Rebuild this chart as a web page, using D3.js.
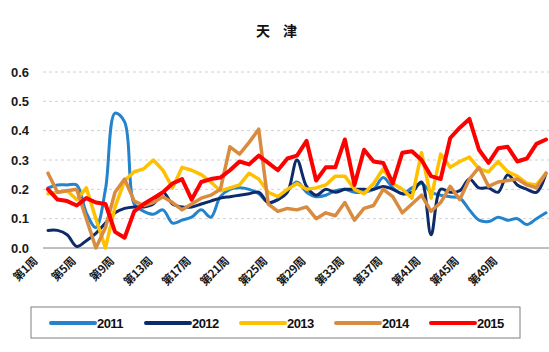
<!DOCTYPE html>
<html><head><meta charset="utf-8">
<script src="https://cdn.jsdelivr.net/npm/d3@7/dist/d3.min.js"></script>
<style>body{margin:0;background:#fff}svg{display:block}</style>
</head><body>
<svg id="c" width="549" height="352"></svg>
<script>
const title = "天 津";
const seriesNames = ["2011","2012","2013","2014","2015"];
const seriesColors = ["#2383CC","#0D2A6B","#FFC000","#D98B40","#FF0000"];
const yTicks = [0,0.1,0.2,0.3,0.4,0.5,0.6];
const tickWeeks = [1,5,9,13,17,21,25,29,33,37,41,45,49];
const tickLabels = ["第1周","第5周","第9周","第13周","第17周","第21周","第25周","第29周","第33周","第37周","第41周","第45周","第49周"];

const s2011 = [0.205,0.215,0.215,0.215,0.12,0.07,0.2,0.46,0.43,0.15,
0.125,0.115,0.13,0.085,0.095,0.105,0.13,0.105,0.175,0.2,
0.205,0.2,0.185,0.155,0.165,0.195,0.225,0.19,0.175,0.18,
0.195,0.2,0.19,0.19,0.2,0.24,0.205,0.185,0.205,0.22,
0.19,0.18,0.175,0.17,0.13,0.095,0.09,0.105,0.095,0.1,
0.08,0.1,0.12];
const s2012 = [0.06,0.06,0.045,0.005,0.025,0.05,0.085,0.12,0.135,0.14,
0.14,0.15,0.19,0.15,0.14,0.14,0.15,0.16,0.17,0.175,
0.18,0.185,0.19,0.155,0.165,0.19,0.30,0.21,0.18,0.2,
0.19,0.2,0.2,0.2,0.2,0.21,0.2,0.185,0.19,0.225,
0.045,0.2,0.19,0.195,0.235,0.205,0.205,0.19,0.25,0.215,
0.2,0.19,0.255];
const s2013 = [0.185,0.19,0.195,0.165,0.205,0.1,0.0,0.14,0.23,0.26,
0.27,0.3,0.265,0.205,0.275,0.265,0.25,0.225,0.195,0.205,
0.215,0.255,0.235,0.19,0.175,0.2,0.22,0.2,0.205,0.215,
0.245,0.245,0.2,0.185,0.22,0.27,0.22,0.2,0.17,0.325,
0.17,0.32,0.275,0.295,0.31,0.27,0.26,0.295,0.26,0.245,
0.22,0.215,0.255];
const s2014 = [0.255,0.19,0.195,0.2,0.1,0.0,0.07,0.19,0.235,0.16,
0.145,0.155,0.175,0.155,0.13,0.15,0.17,0.18,0.2,0.345,
0.32,0.36,0.405,0.15,0.125,0.135,0.13,0.14,0.1,0.12,
0.11,0.155,0.095,0.135,0.145,0.2,0.175,0.12,0.15,0.18,
0.125,0.155,0.21,0.165,0.235,0.275,0.21,0.225,0.23,0.235,
0.215,0.205,0.255];
const s2015 = [0.2,0.165,0.16,0.145,0.17,0.155,0.15,0.055,0.035,0.125,
0.15,0.17,0.19,0.22,0.235,0.165,0.225,0.235,0.24,0.265,
0.295,0.285,0.315,0.29,0.265,0.305,0.315,0.365,0.23,0.275,
0.275,0.37,0.215,0.335,0.295,0.29,0.22,0.325,0.33,0.3,
0.245,0.235,0.375,0.41,0.44,0.335,0.29,0.34,0.345,0.295,
0.305,0.355,0.37];

const allSeries = [s2011,s2012,s2013,s2014,s2015];
const smooth = [true,true,false,false,false];
const widths = [3,3,3.5,3.5,4];

const svg = d3.select("#c");
const x = d3.scaleLinear().domain([1,53]).range([48,546]);
const y = d3.scaleLinear().domain([0,0.6]).range([248,72]);
const plotL = 43, plotR = 549;

// title
svg.append("text").attr("x",279).attr("y",36).attr("text-anchor","middle")
  .style("font-family","'Noto Sans CJK SC',sans-serif").style("font-weight","bold")
  .style("font-size","14px").style("letter-spacing","5px").style("white-space","pre")
  .attr("fill","#111").text(title);

// grid
svg.append("g").selectAll("line").data(yTicks.filter(d=>d>0)).join("line")
  .attr("x1",plotL).attr("x2",plotR).attr("y1",d=>y(d)).attr("y2",d=>y(d))
  .attr("stroke","#d0d0d0").attr("stroke-width",1).attr("stroke-dasharray","3,3");
svg.append("line").attr("x1",plotL).attr("x2",plotR).attr("y1",y(0)).attr("y2",y(0))
  .attr("stroke","#808080").attr("stroke-width",1);

// y labels
svg.append("g").selectAll("text").data(yTicks).join("text")
  .attr("x",29).attr("y",d=>y(d)).attr("dy","0.35em").attr("text-anchor","end")
  .style("font-family","'Liberation Sans',Arial,sans-serif").style("font-weight","bold")
  .style("font-size","13px").attr("fill","#1a1a1a").text(d=>d3.format(".1f")(d));

// x labels
svg.append("g").selectAll("text").data(tickWeeks).join("text")
  .attr("text-anchor","end")
  .attr("transform",(d)=>`translate(${x(d)-10},${262}) rotate(-45)`)
  .style("font-family","'Noto Sans CJK SC',sans-serif").style("font-weight","bold")
  .style("font-size","11.5px").style("letter-spacing","-0.5px").attr("fill","#1a1a1a")
  .text((d,i)=>tickLabels[i]);

// lines
allSeries.forEach((s,i)=>{
  const line = d3.line().x((d,j)=>x(j+1)).y(d=>y(d))
    .curve(smooth[i] ? d3.curveCatmullRom.alpha(0.5) : d3.curveLinear);
  svg.append("path").datum(s).attr("d",line).attr("fill","none")
    .attr("stroke",seriesColors[i]).attr("stroke-width",widths[i])
    .attr("stroke-linejoin","round").attr("stroke-linecap","round");
});

// legend
svg.append("rect").attr("x",31).attr("y",307).attr("width",489).attr("height",31)
  .attr("fill","#fff").attr("stroke","#7f7f7f").attr("stroke-width",1);
const lg = svg.append("g");
seriesNames.forEach((n,i)=>{
  const lx = 51 + i*95;
  lg.append("line").attr("x1",lx).attr("x2",lx+44).attr("y1",323).attr("y2",323)
    .attr("stroke",seriesColors[i]).attr("stroke-width",4).attr("stroke-linecap","round");
  lg.append("text").attr("x",lx+46).attr("y",323).attr("dy","0.35em")
    .style("font-family","'Liberation Sans',Arial,sans-serif").style("font-weight","bold")
    .style("font-size","13px").style("letter-spacing","-0.6px").attr("fill","#111").text(n);
});
</script>
</body></html>
